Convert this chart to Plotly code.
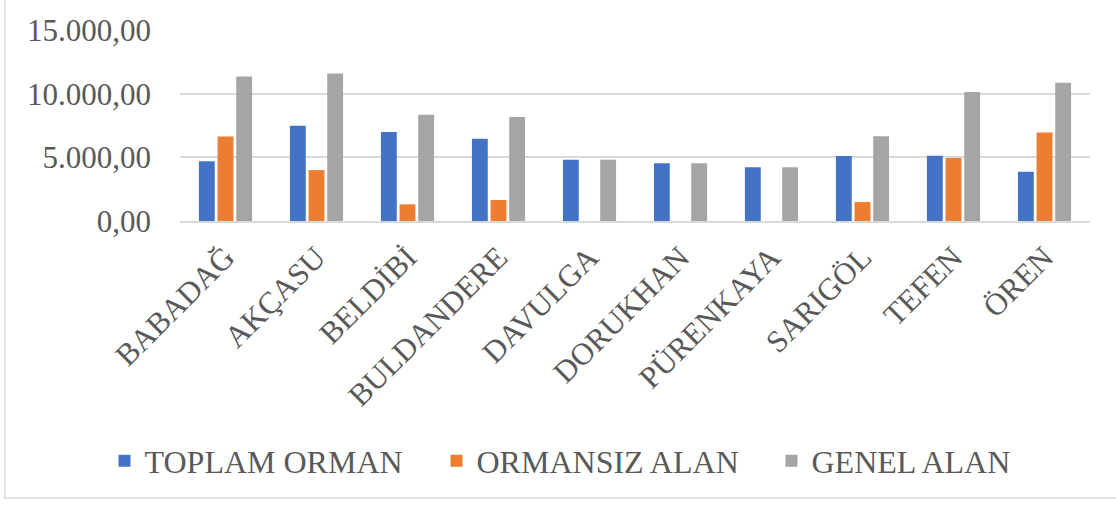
import plotly.graph_objects as go

categories = ["BABADAĞ", "AKÇASU", "BELDİBİ", "BULDANDERE", "DAVULGA",
              "DORUKHAN", "PÜRENKAYA", "SARIGÖL", "TEFEN", "ÖREN"]
toplam_orman = [4690, 7480, 6990, 6460, 4810, 4530, 4215, 5100, 5130, 3870]
ormansiz_alan = [6640, 4000, 1310, 1650, 0, 0, 0, 1490, 4945, 6960]
genel_alan = [11350, 11590, 8345, 8160, 4810, 4530, 4215, 6650, 10125, 10855]
tick_vals = [0, 5000, 10000, 15000]
tick_text = ["0,00", "5.000,00", "10.000,00", "15.000,00"]

W, H = 1116, 506
L, R, T, B = 180, 26, 30, 285
pw, ph = W - L - R, H - T - B

def px_x(x):
    return (x - L) / pw

def px_y(y):
    return (H - B - y) / ph

font_serif = "Times New Roman"
txt = "#595959"

fig = go.Figure()
series = [("TOPLAM ORMAN", toplam_orman, "#4472C4", 287),
          ("ORMANSIZ ALAN", ormansiz_alan, "#ED7D31", 290),
          ("GENEL ALAN", genel_alan, "#A5A5A5", None)]
for name, vals, col, lw in series:
    kw = {}
    if lw:
        kw["legendwidth"] = lw
    fig.add_trace(go.Bar(x=categories, y=vals, name=name,
                         marker=dict(color=col, line=dict(width=0)), **kw))

fig.update_layout(
    width=W, height=H,
    margin=dict(l=L, r=R, t=T, b=B, autoexpand=False),
    paper_bgcolor="white", plot_bgcolor="white",
    barmode="group", bargap=0.385, bargroupgap=0.15,
    font=dict(family=font_serif, color=txt),
    showlegend=True,
    legend=dict(orientation="h", xref="container", x=560 / W, xanchor="center",
                y=px_y(461), yanchor="middle",
                font=dict(family=font_serif, size=32, color=txt),
                itemsizing="constant", traceorder="normal"),
    shapes=[dict(type="rect", xref="paper", yref="paper",
                 x0=px_x(5), x1=px_x(1130), y0=px_y(498), y1=px_y(-10),
                 line=dict(color="#D9D9D9", width=1.5), layer="below")],
)
fig.update_xaxes(tickangle=-45, tickfont=dict(family=font_serif, size=31, color=txt),
                 showline=True, linecolor="#D9D9D9", linewidth=1.5,
                 ticks="", showgrid=False, ticklabelstandoff=4)
fig.update_yaxes(range=[0, 15000], tickvals=tick_vals, ticktext=tick_text,
                 tickfont=dict(family=font_serif, size=31, color=txt),
                 showgrid=True, gridcolor="#D9D9D9", gridwidth=1.5,
                 zeroline=False, showline=False, ticklabelstandoff=28)

fig.write_html("out.html", config={"displayModeBar": False},
               post_script="document.body.style.margin='0';")
